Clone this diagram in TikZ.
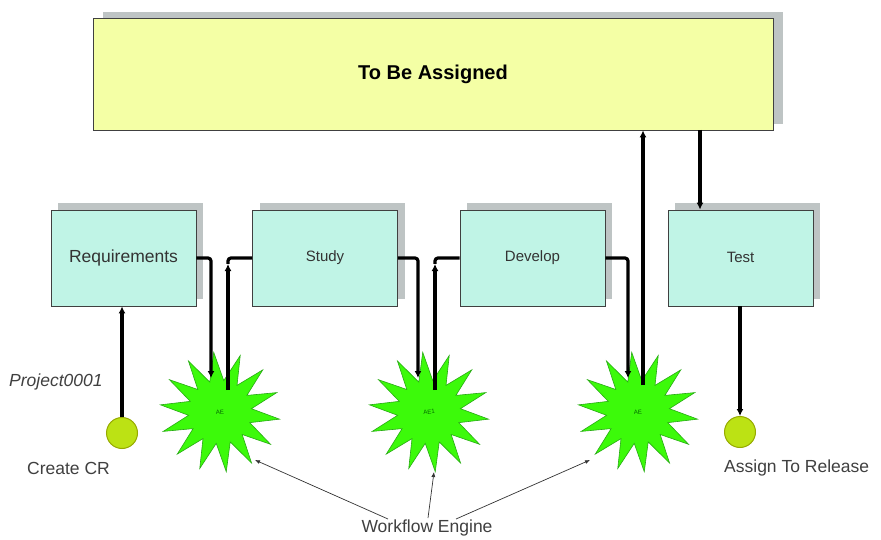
\documentclass[tikz,border=0pt]{standalone}
\usepackage{fontspec}
\setmainfont{Liberation Sans}
\usetikzlibrary{shapes.geometric,calc,arrows.meta,shadows}
\definecolor{boxcyan}{RGB}{192,244,230}
\definecolor{boxyellow}{RGB}{244,255,165}
\definecolor{shadowgray}{RGB}{190,196,196}
\definecolor{stargreen}{RGB}{60,250,10}
\definecolor{stareedge}{RGB}{40,170,20}
\definecolor{dotfill}{RGB}{188,226,20}
\definecolor{dotedge}{RGB}{150,170,0}
\begin{document}
\begin{tikzpicture}[x=1pt,y=-1pt,
  procbox/.style={draw=black!75, fill=boxcyan, line width=0.8pt, minimum width=145pt, minimum height=96pt, inner sep=0pt,
     drop shadow={shadow xshift=7pt, shadow yshift=7pt, fill=shadowgray, opacity=1}, font=\fontsize{15}{18}\selectfont, text=black!80},
  topbox/.style={draw=black!75, fill=boxyellow, line width=0.8pt, minimum width=680pt, minimum height=112pt, inner sep=0pt,
     drop shadow={shadow xshift=10pt, shadow yshift=6pt, fill=shadowgray, opacity=1}, font=\fontsize{20}{24}\selectfont\bfseries},
  burst/.style={star, star points=14, star point ratio=1.9, minimum size=120pt, fill=stargreen, draw=stareedge, line width=0.6pt, inner sep=0pt, font=\fontsize{6}{7}\selectfont, text=black!60!green},
  dot/.style={circle, minimum size=31pt, inner sep=0pt, fill=dotfill, draw=dotedge, line width=1pt},
  flow/.style={line width=3.2pt, -{Latex[length=7pt,width=7pt]}, rounded corners=3pt},
  plain/.style={line width=3.2pt, rounded corners=3pt},
  thin/.style={line width=0.7pt, black!80, -{Latex[length=5pt,width=4pt]}},
  lbl/.style={font=\fontsize{17.5}{20}\selectfont, text=black!75, inner sep=0pt}
]
\useasboundingbox (0,0) rectangle (881,540);
\fill[white] (0,0) rectangle (881,540);

\node[topbox] (tba) at (433,74) {To Be Assigned};

\node[procbox, font=\fontsize{17.5}{20}\selectfont] (req) at (123.5,258) {Requirements};
\node[procbox] (study) at (325,258) {Study};
\node[procbox] (dev) at (532.5,258) {Develop};
\node[procbox] (test) at (740.5,258) {\raisebox{2pt}{Test}};

\node[burst, rotate=6] (s1) at (220,412) {AE};
\node[burst, rotate=6] (s2) at (429,412) {AE1};
\node[burst, rotate=6] (s3) at (638,412) {AE};

\node[dot] (cr) at (122,433) {};
\node[dot] (ar) at (740,432) {};

% coordinates
\coordinate (s1in) at (211,378);
\coordinate (s1out) at (228,390);
\coordinate (s1tip) at (228,264);
\coordinate (s2in) at (418,378);
\coordinate (s2out) at (435,390);
\coordinate (s2tip) at (435,264);
\coordinate (s3in) at (628,378);
\coordinate (s3out) at (643,385);
\coordinate (tbaout) at (700,130);

\draw[flow] (cr.north) -- (cr.north |- req.south);
\draw[flow] (req.east) -| (s1in);
\draw[flow] (s1out) -- (s1tip);
\draw[plain] (s1tip) |- (study.west);
\draw[flow] (study.east) -| (s2in);
\draw[flow] (s2out) -- (s2tip);
\draw[plain] (s2tip) |- (dev.west);
\draw[flow] (dev.east) -| (s3in);
\draw[flow] (s3out) -- (s3out |- tba.south);
\draw[flow] (tbaout) -- (tbaout |- test.north);
\draw[flow] (ar.north |- test.south) -- (ar.north);

% labels
\node[lbl, anchor=west, font=\fontsize{17.5}{20}\selectfont\itshape] (proj) at (9,382) {Project0001};
\node[lbl, anchor=west] (crl) at (27,468) {Create CR};
\node[lbl, anchor=west] (arl) at (724,468) {Assign To Release};
\node[lbl] (we) at (427,528) {Workflow Engine};

\coordinate (w1) at (388,519);
\coordinate (w2) at (428,518);
\coordinate (w3) at (456,519);
\coordinate (e1) at (255,460);
\coordinate (e2) at (434,472);
\coordinate (e3) at (590,460);
\draw[thin] (w1) -- (e1);
\draw[thin] (w2) -- (e2);
\draw[thin] (w3) -- (e3);
\end{tikzpicture}
\end{document}
